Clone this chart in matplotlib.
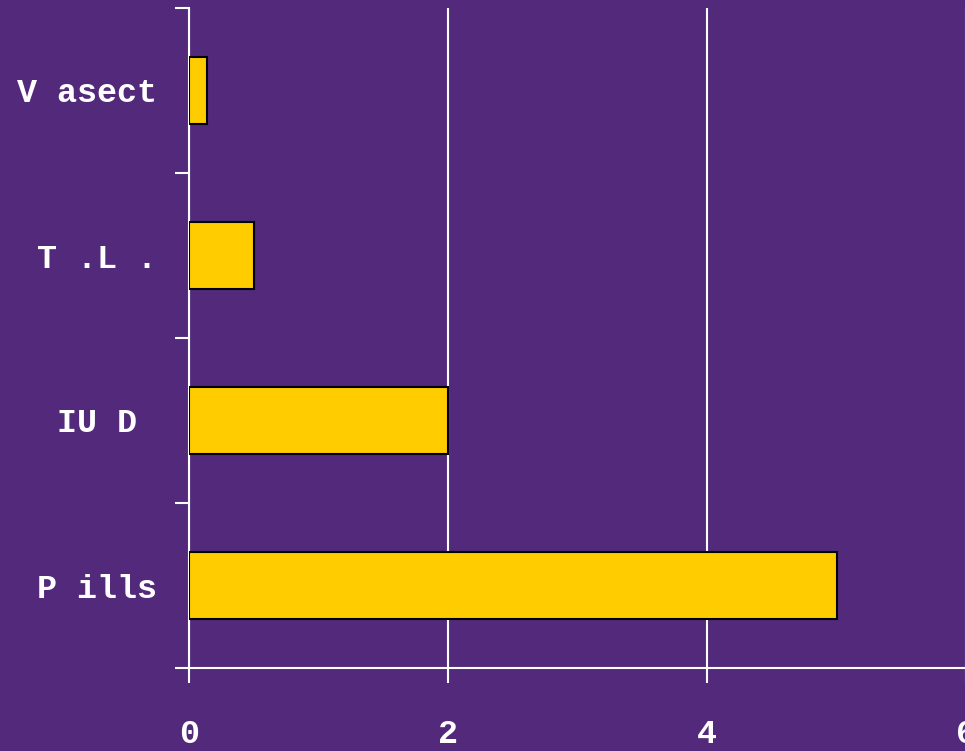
import matplotlib
matplotlib.use("Agg")
import matplotlib.pyplot as plt

methods = ["P ills", "IU D ", "T .L .", "V asect"]
values = [5.0, 2.0, 0.5, 0.14]
xticks = [0, 2, 4, 6]

purple = "#532A7B"
yellow = "#FFCC00"

fig = plt.figure(figsize=(9.65, 7.51), dpi=100, facecolor=purple)
ax = fig.add_axes([189 / 965, 83 / 751, 777 / 965, 660 / 751])
ax.set_facecolor(purple)

ax.barh(range(len(methods)), values, height=0.41, color=yellow,
        edgecolor="black", linewidth=1.5, zorder=3)

ax.set_xlim(0, 6)
ax.set_ylim(-0.5, len(methods) - 0.5)
ax.set_xticks(xticks)
ax.set_xticklabels([str(t) for t in xticks])
ax.set_yticks([i - 0.5 for i in range(len(methods) + 1)], minor=False)
ax.set_yticklabels([""] * (len(methods) + 1))
ax.set_yticks(range(len(methods)), minor=True)
ax.set_yticklabels(methods, minor=True)

ax.grid(axis="x", color="white", linewidth=1.5, zorder=1)
for s in ["top", "right"]:
    ax.spines[s].set_visible(False)
for s in ["left", "bottom"]:
    ax.spines[s].set_color("white")
    ax.spines[s].set_linewidth(1.5)

ax.tick_params(axis="y", which="major", length=10, width=1.5, color="white")
ax.tick_params(axis="y", which="minor", length=0, pad=23, labelcolor="white",
               labelsize=24)
ax.tick_params(axis="x", length=10.5, width=1.5, color="white", pad=26,
               labelcolor="white", labelsize=24)
for lab in ax.get_xticklabels() + ax.get_yticklabels(minor=True):
    lab.set_fontfamily("Liberation Mono")
    lab.set_fontweight("bold")

fig.savefig("out.png", dpi=100, facecolor=purple)
